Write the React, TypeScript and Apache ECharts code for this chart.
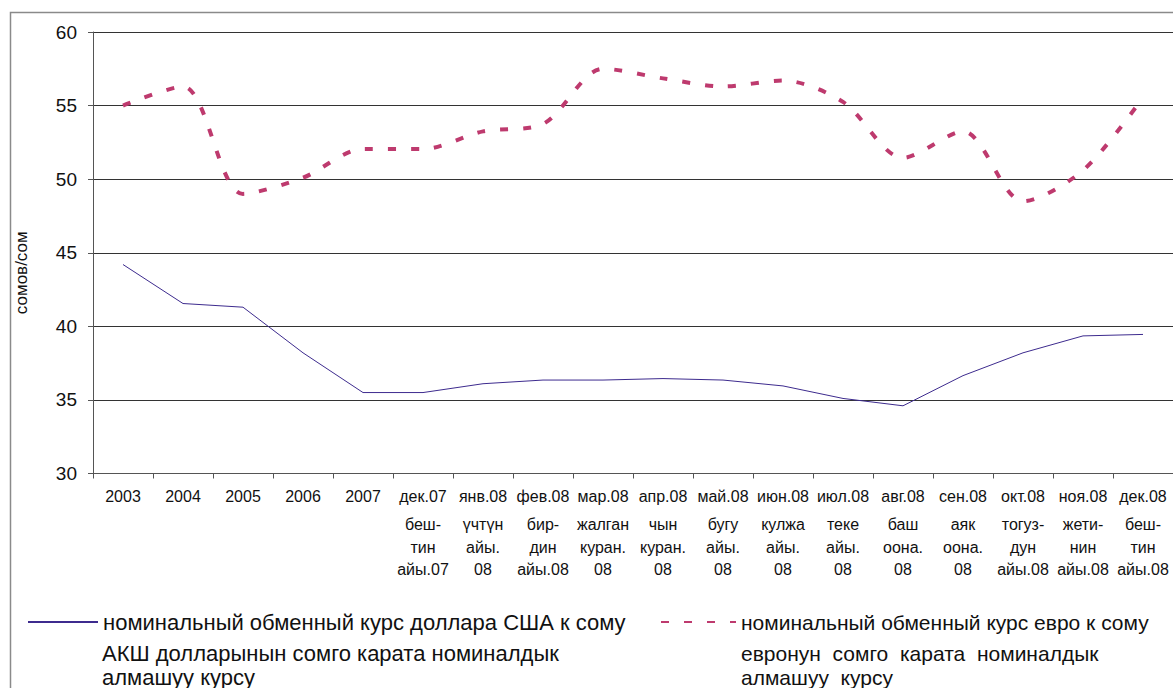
import React, { useEffect, useRef } from 'react';
import * as echarts from 'echarts';

const categories = ['2003', '2004', '2005', '2006', '2007', 'дек.07', 'янв.08', 'фев.08', 'мар.08', 'апр.08', 'май.08', 'июн.08', 'июл.08', 'авг.08', 'сен.08', 'окт.08', 'ноя.08', 'дек.08'];
const kyrgyzMonths: string[][] = [
  [], [], [], [], [],
  ['беш-', 'тин', 'айы.07'],
  ['үчтүн', 'айы.', '08'],
  ['бир-', 'дин', 'айы.08'],
  ['жалган', 'куран.', '08'],
  ['чын', 'куран.', '08'],
  ['бугу', 'айы.', '08'],
  ['кулжа', 'айы.', '08'],
  ['теке', 'айы.', '08'],
  ['баш', 'оона.', '08'],
  ['аяк', 'оона.', '08'],
  ['тогуз-', 'дун', 'айы.08'],
  ['жети-', 'нин', 'айы.08'],
  ['беш-', 'тин', 'айы.08'],
];
const usdRate = [44.2, 41.55, 41.3, 38.2, 35.5, 35.5, 36.1, 36.35, 36.35, 36.45, 36.35, 35.95, 35.1, 34.6, 36.65, 38.2, 39.35, 39.45];
const eurRate = [55.0, 56.3, 49.0, 50.1, 52.05, 52.05, 53.25, 53.75, 57.5, 56.85, 56.3, 56.7, 55.25, 51.45, 53.25, 48.5, 50.6, 55.55];

const yMin = 30;
const yMax = 60;
const yStep = 5;

const usdName = 'номинальный обменный курс доллара США к сому';
const eurName = 'номинальный обменный курс евро к сому';
const usdNameKg = ['АКШ долларынын сомго карата номиналдык', 'алмашуу курсу'];
const eurNameKg = ['евронун  сомго  карата  номиналдык', 'алмашуу  курсу'];
const yAxisName = 'сомов/сом';

export default function App() {
  const ref = useRef<HTMLDivElement>(null);
  useEffect(() => {
    document.body.style.margin = '0';
    const chart = echarts.init(ref.current!, null, { renderer: 'svg' });
    const font = "'Liberation Sans', Arial, sans-serif";
    const textColor = '#111';
    const legendCommon = {
      top: 610,
      padding: 0,
      itemHeight: 14,
      selectedMode: false,
      itemStyle: { opacity: 0 },
    };
    chart.setOption({
      animation: false,
      backgroundColor: '#fff',
      textStyle: { fontFamily: font, color: textColor },
      grid: { left: 93, top: 32, width: 1080, height: 441.5, containLabel: false },
      xAxis: {
        type: 'category',
        data: categories,
        boundaryGap: true,
        axisLine: { show: true, lineStyle: { color: '#555', width: 1 } },
        axisTick: { show: true, length: 5, interval: 0, lineStyle: { color: '#555' } },
        splitLine: { show: false },
        axisLabel: {
          interval: 0,
          hideOverlap: false,
          margin: 6,
          formatter: (v: string, i: number) => {
            const kg = kyrgyzMonths[i] || [];
            return ['{a|' + v + '}'].concat(kg.map((s) => '{b|' + s + '}')).join('\n');
          },
          rich: {
            a: { fontSize: 16, lineHeight: 34, fontFamily: font, color: textColor },
            b: { fontSize: 16, lineHeight: 22.5, fontFamily: font, color: textColor },
          },
        },
      },
      yAxis: {
        type: 'value',
        min: yMin,
        max: yMax,
        interval: yStep,
        name: yAxisName,
        nameLocation: 'middle',
        nameGap: 63,
        nameRotate: 90,
        nameTextStyle: { fontSize: 17, color: textColor, fontFamily: font, padding: [0, 40, 0, 0] },
        axisLine: { show: true, lineStyle: { color: '#555', width: 1 } },
        axisTick: { show: true, length: 5, lineStyle: { color: '#555' } },
        splitLine: { show: true, lineStyle: { color: '#333', width: 1 } },
        axisLabel: { fontSize: 19, margin: 16, color: textColor, fontFamily: font },
      },
      legend: [
        {
          ...legendCommon,
          data: [usdName],
          left: 27,
          itemWidth: 70,
          textStyle: { fontSize: 22, color: textColor, fontFamily: font, lineHeight: 24 },
        },
        {
          ...legendCommon,
          data: [eurName],
          left: 660,
          itemWidth: 75,
          textStyle: { fontSize: 21, color: textColor, fontFamily: font, lineHeight: 24 },
        },
      ],
      graphic: [
        {
          type: 'rect',
          silent: true,
          z: -10,
          shape: { x: 10.5, y: 12.5, width: 1300, height: 800 },
          style: { fill: 'none', stroke: '#8a8a8a', lineWidth: 1.5 },
        },
        {
          type: 'text',
          x: 102,
          y: 641,
          style: { text: usdNameKg.join('\n'), fontSize: 22, fontFamily: font, lineHeight: 24, fill: textColor, verticalAlign: 'top' },
        },
        {
          type: 'text',
          x: 741,
          y: 641,
          style: { text: eurNameKg.join('\n'), fontSize: 21, fontFamily: font, lineHeight: 24, fill: textColor, verticalAlign: 'top' },
        },
      ],
      series: [
        {
          name: usdName,
          type: 'line',
          data: usdRate,
          symbol: 'none',
          smooth: false,
          color: '#3d2b8e',
          lineStyle: { color: '#3d2b8e', width: 1 },
        },
        {
          name: eurName,
          type: 'line',
          data: eurRate,
          symbol: 'none',
          smooth: 0.3,
          color: '#be3a6e',
          lineStyle: { color: '#be3a6e', width: 4, type: [8, 15] },
        },
      ],
    });
    return () => chart.dispose();
  }, []);
  return <div ref={ref} style={{ position: 'absolute', left: 0, top: 0, width: 1173, height: 688 }} />;
}
